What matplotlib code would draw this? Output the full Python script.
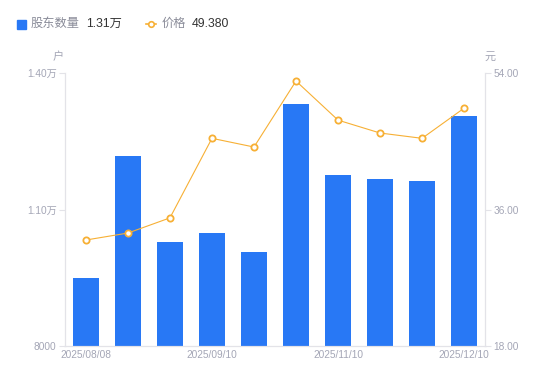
import matplotlib
matplotlib.use("Agg")
import matplotlib.pyplot as plt
from matplotlib.lines import Line2D

plt.rcParams['font.family'] = ['Liberation Sans', 'Noto Sans CJK SC', 'DejaVu Sans']

# data
dates = ['2025/08/08', '2025/08/20', '2025/08/29', '2025/09/10', '2025/09/20',
         '2025/09/30', '2025/11/10', '2025/11/20', '2025/11/30', '2025/12/10']
holders = [9490, 12180, 10290, 10480, 10070, 13320, 11760, 11670, 11630, 13060]
price = [31.98, 32.90, 34.90, 45.40, 44.25, 52.96, 47.80, 46.10, 45.40, 49.38]
shown_ticks = [0, 3, 6, 9]

blue = '#2878f5'
orange = '#f7b035'
grey = '#a4a6b6'
axis_c = '#e3e3e8'

fig = plt.figure(figsize=(5.5, 3.81), dpi=100)
ax = fig.add_axes([0.118, 0.092, 0.764, 0.716])
ax2 = ax.twinx()

x = list(range(len(dates)))
ax.bar(x, holders, width=0.6, color=blue, zorder=2)
ax.set_xlim(-0.5, len(dates) - 0.5)
ax.set_ylim(8000, 14000)
ax.set_yticks([8000, 11000, 14000])
ax.set_yticklabels(['8000', '1.10万', '1.40万'])
ax.set_xticks(shown_ticks)
ax.set_xticklabels([dates[i] for i in shown_ticks])

ax2.plot(x, price, color=orange, lw=0.8, marker='o', ms=4.5, mfc='white',
         mec=orange, mew=1.3, zorder=3)
ax2.set_ylim(18, 54)
ax2.set_yticks([18, 36, 54])
ax2.set_yticklabels(['18.00', '36.00', '54.00'])

for a in (ax, ax2):
    for s in a.spines.values():
        s.set_color(axis_c)
        s.set_linewidth(0.8)
    a.spines['top'].set_visible(False)
    a.tick_params(axis='y', colors=axis_c, labelcolor=grey, labelsize=7.3,
                  length=4, width=0.8, pad=2)
    a.tick_params(axis='x', length=0, labelcolor=grey, labelsize=7.3, pad=3)

ax.set_zorder(ax2.get_zorder() - 1)
ax2.patch.set_visible(False)

fig.text(58 / 550, 1 - 57 / 381, '户', color=grey, fontsize=8, ha='center', va='center')
fig.text(490 / 550, 1 - 57 / 381, '元', color=grey, fontsize=8, ha='center', va='center')

# legend row
fig.patches.append(plt.Rectangle((17 / 550, 1 - 29 / 381), 9 / 550, 9 / 381,
                                 transform=fig.transFigure, color=blue))
fig.text(31 / 550, 1 - 24 / 381, '股东数量', color='#8a8c99', fontsize=8.8, va='center')
fig.text(86 / 550, 1 - 24 / 381, '1.31万', color='#333333', fontsize=8.8, va='center')
fig.lines.append(Line2D([146 / 550, 156 / 550], [1 - 24 / 381, 1 - 24 / 381],
                        transform=fig.transFigure, color=orange, lw=1.2))
fig.lines.append(Line2D([151 / 550], [1 - 24 / 381], transform=fig.transFigure,
                        marker='o', ms=4, mfc='white', mec=orange, mew=1.2))
fig.text(162 / 550, 1 - 24 / 381, '价格', color='#8a8c99', fontsize=8.8, va='center')
fig.text(192 / 550, 1 - 24 / 381, '49.380', color='#333333', fontsize=8.8, va='center')

fig.savefig('out.png', dpi=100)
